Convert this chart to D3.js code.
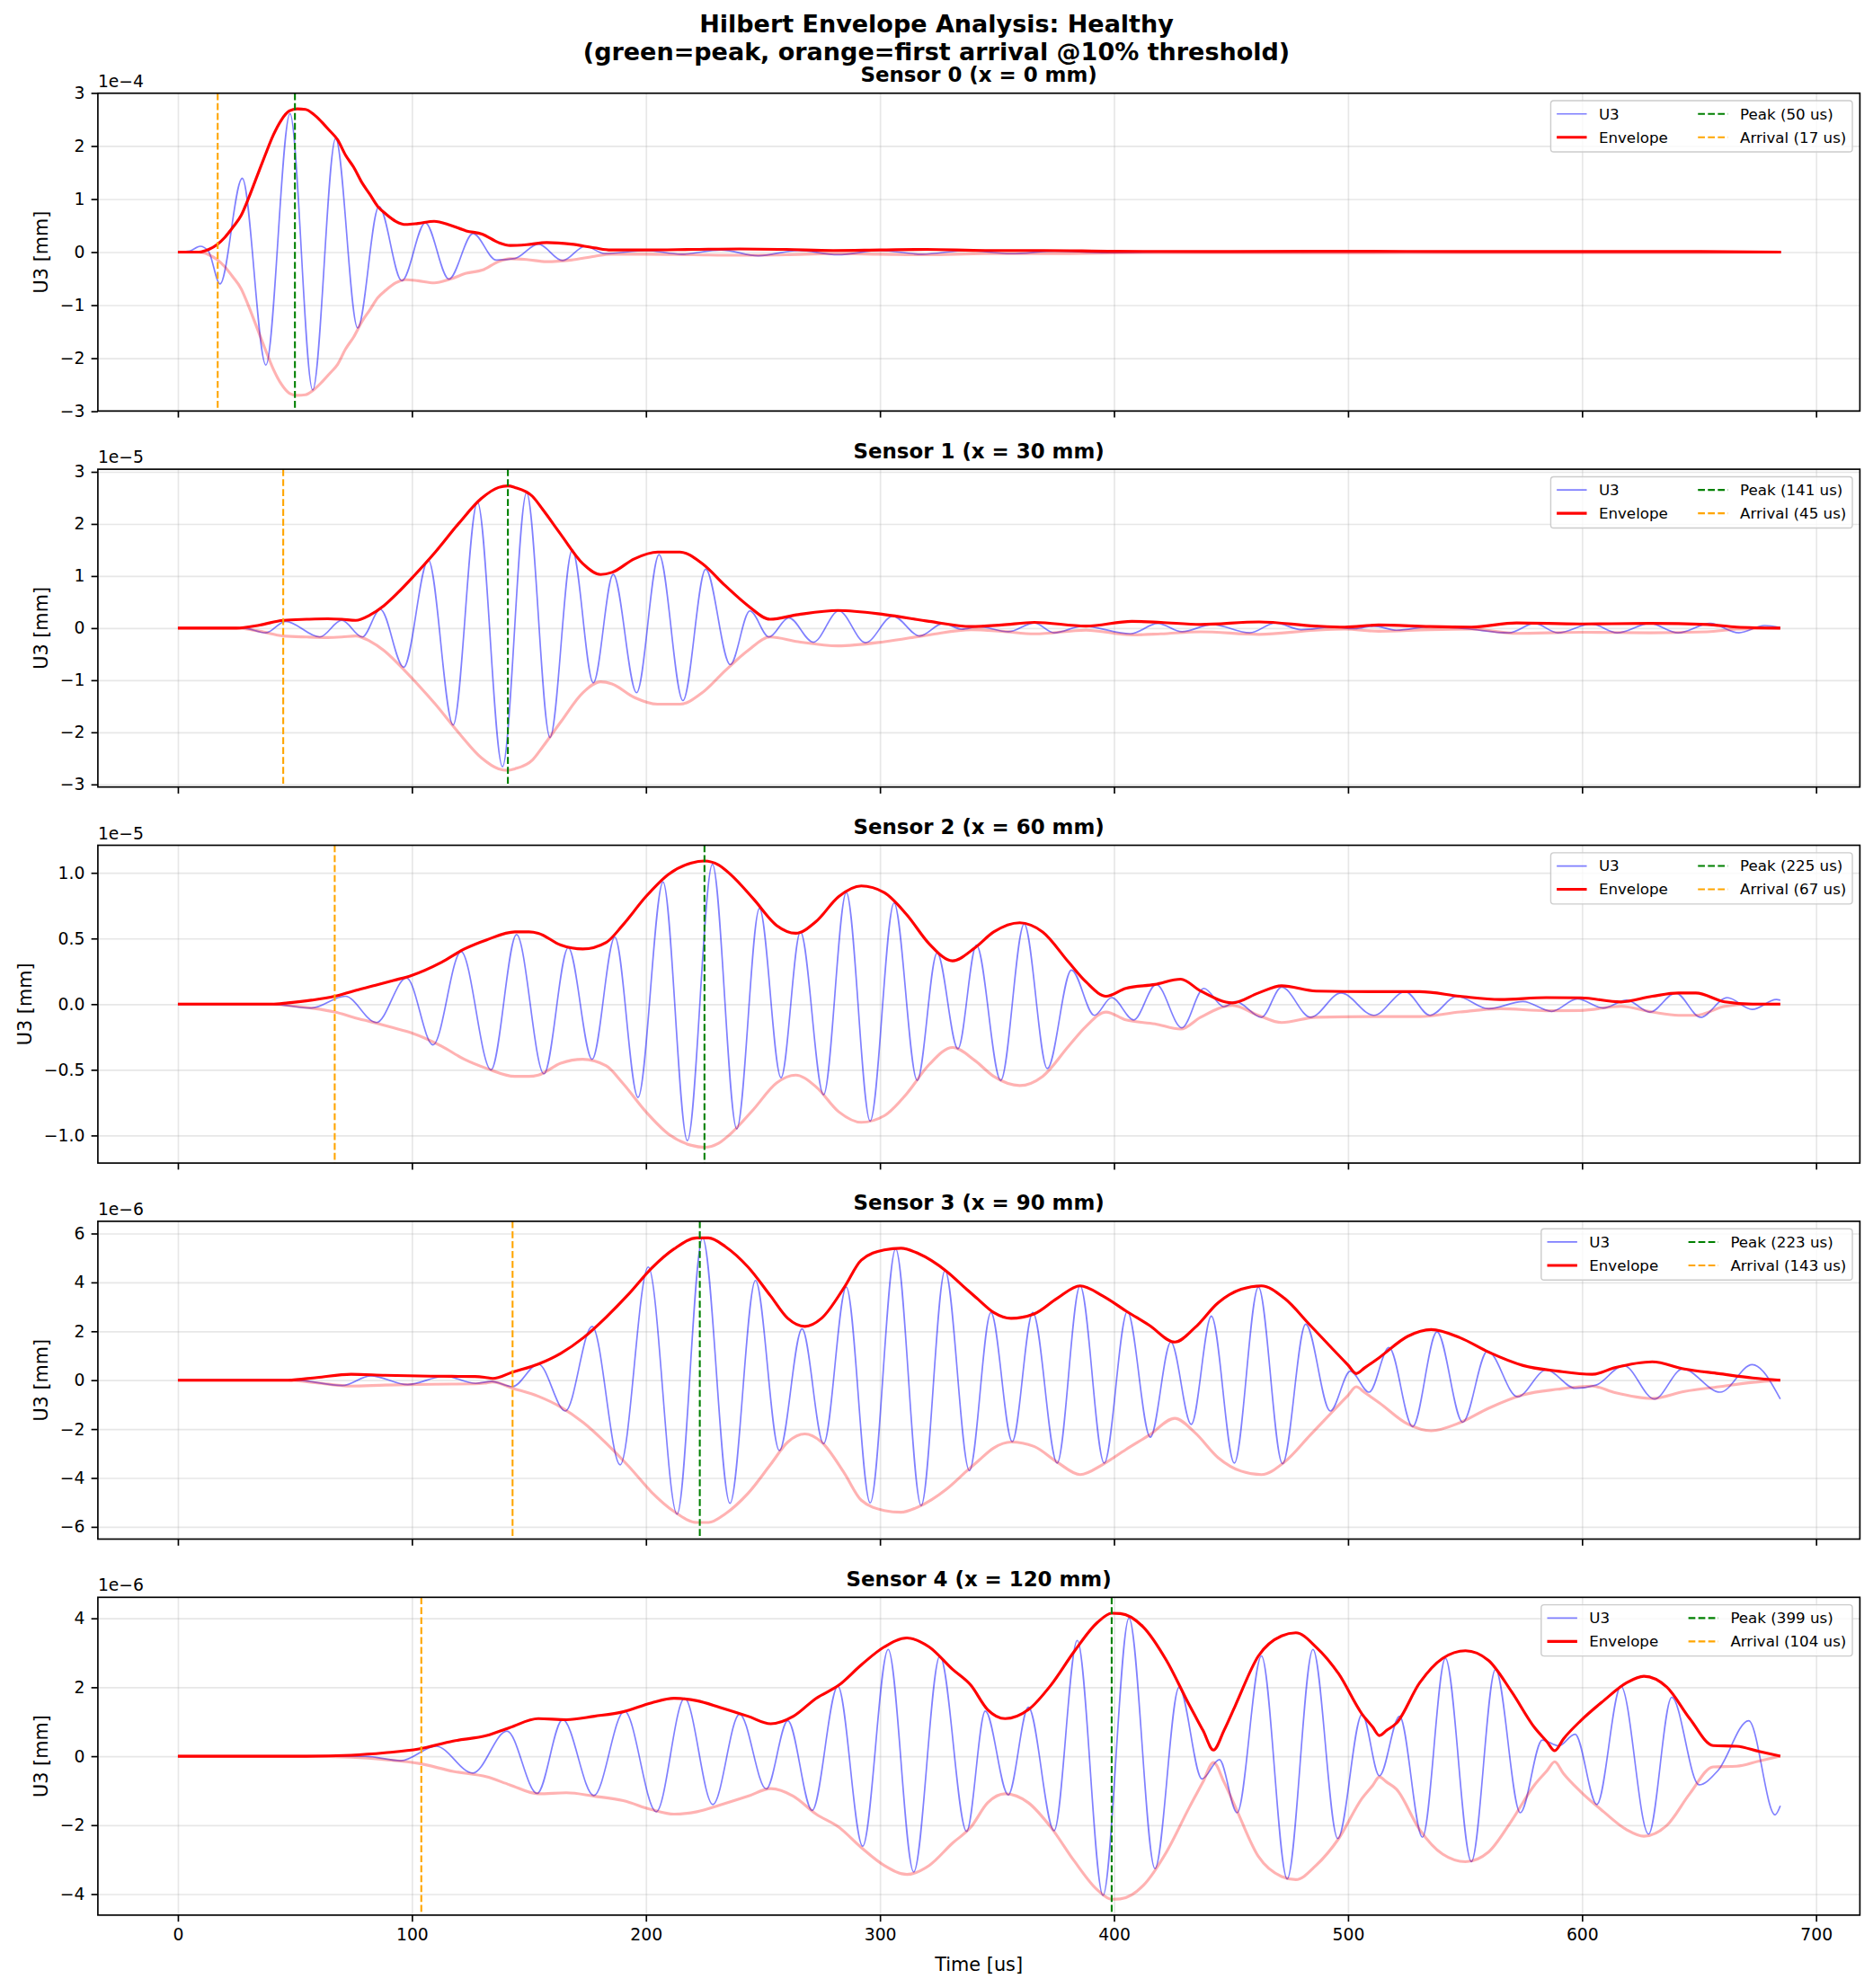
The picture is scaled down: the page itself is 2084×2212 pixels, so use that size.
<!DOCTYPE html>
<html><head><meta charset="utf-8">
<script src="https://cdn.jsdelivr.net/npm/d3@7"></script>
<style>
body{margin:0;background:#fff}
svg{display:block}
text{font-family:"DejaVu Sans",sans-serif;fill:#000}
</style>
</head><body>
<svg id="c" width="2084" height="2212"></svg>
<script>
// ---------------- DATA ----------------
const suptitleLines = ["Hilbert Envelope Analysis: Healthy", "(green=peak, orange=first arrival @10% threshold)"];
const sensorTitles = ["Sensor 0 (x = 0 mm)", "Sensor 1 (x = 30 mm)", "Sensor 2 (x = 60 mm)", "Sensor 3 (x = 90 mm)", "Sensor 4 (x = 120 mm)"];
const peakTimes = [50, 141, 225, 223, 399];
const arrivalTimes = [17, 45, 67, 143, 104];
const yExponents = [-4, -5, -5, -6, -6];           // offset text exponent
const yLimits = [2.995, 3.05, 1.21, 6.5, 4.61];     // in units of 10^exp
const yTicks = [[-3,-2,-1,0,1,2,3],[-3,-2,-1,0,1,2,3],[-1.0,-0.5,0.0,0.5,1.0],[-6,-4,-2,0,2,4,6],[-4,-2,0,2,4]];
const yTickDecimals = [0, 0, 1, 0, 0];
const xTicks = [0,100,200,300,400,500,600,700];
const xDomain = [-34.2, 718.7];

// U3 signal (extrema), [time us, value in 10^exp mm]
const u3_s0 = [[0,0],[5,0.02],[9.5,0.11],[13,0.02],[18,-0.6],[27.5,1.39],[37.6,-2.13],[47.9,2.61],[57.6,-2.6],[67.4,2.14],[76.8,-1.43],[85.9,0.86],[95.7,-0.54],[105.7,0.55],[115.8,-0.51],[126.1,0.35],[136,-0.15],[144,-0.12],[154,0.15],[164.4,-0.16],[174,0.11],[182.5,-0.03],[200,0.03],[215,-0.04],[232,0.04],[248,-0.07],[265,0.03],[282,-0.05],[300,0.03],[318,-0.04],[337,0.03],[356,-0.03],[375,0.02],[395,-0.01],[420,0],[685,0]];
const u3_s1 = [[0,0],[28,0],[37.6,-0.09],[46,0.13],[60.6,-0.17],[70,0.15],[78.8,-0.17],[86.5,0.36],[96.5,-0.75],[107,1.31],[117.6,-1.86],[128,2.42],[138.7,-2.66],[149,2.6],[159,-2.1],[168.5,1.5],[177.5,-1.05],[186,1.03],[196,-1.24],[205.6,1.41],[215.8,-1.39],[225.5,1.13],[236,-0.70],[244.4,0.33],[252.6,-0.17],[261,0.2],[271.5,-0.27],[282.4,0.33],[293.8,-0.28],[305.5,0.23],[317,-0.15],[327,0.09],[335,-0.02],[342,0.03],[354.8,-0.07],[366,0.10],[374.4,-0.09],[386.7,0.04],[407,-0.11],[418.7,0.09],[429,-0.07],[442,0.07],[458,-0.09],[469,0.10],[480,-0.03],[493.7,0.02],[503,-0.01],[511,0.04],[520.7,-0.04],[535.5,0.03],[550,-0.01],[568.7,-0.09],[579.7,0.09],[589.6,-0.09],[604,0.08],[615,-0.09],[629,0.09],[641,-0.09],[654.7,0.09],[667,-0.09],[678,0.05],[684.7,0.01]];
const u3_s2 = [[0,0],[40,0],[57,-0.03],[71.5,0.06],[84.8,-0.14],[97.7,0.2],[109,-0.31],[121,0.40],[133.8,-0.5],[144.7,0.53],[156.4,-0.53],[166.8,0.43],[177,-0.42],[186.7,0.51],[196.6,-0.71],[207.3,0.93],[217.7,-1.04],[228.4,1.065],[238.8,-0.95],[248.5,0.73],[257.7,-0.56],[266,0.55],[275.9,-0.69],[285.6,0.85],[295.8,-0.89],[306,0.77],[315.9,-0.58],[324.4,0.39],[333.3,-0.34],[341.2,0.45],[351.6,-0.58],[361.6,0.61],[371.5,-0.49],[381.8,0.26],[391.6,-0.085],[399,0.05],[408.4,-0.12],[418,0.15],[429,-0.18],[438.4,0.12],[447,-0.02],[452,0.02],[463,-0.10],[471.6,0.13],[484,-0.10],[497,0.085],[511,-0.085],[524.4,0.095],[535,-0.085],[546.5,0.06],[560,-0.035],[574.8,0.02],[587,-0.055],[598,0.04],[609,-0.03],[619,0.03],[629,-0.06],[640,0.085],[650.6,-0.1],[662,0.05],[672.7,-0.04],[683,0.035],[684.7,0.03]];
const u3_s3 = [[0,0],[50,0],[70.3,-0.22],[82.4,0.18],[98.2,-0.18],[114,0.165],[127.3,-0.13],[134,-0.05],[143,-0.26],[154,0.66],[165.6,-1.26],[177,2.2],[189,-3.46],[201,4.63],[213.3,-5.48],[224.2,5.82],[235.9,-5.04],[246.8,4.08],[257,-2.88],[266.7,2.1],[275.9,-2.6],[285.6,3.81],[295.8,-5.02],[306.7,5.37],[317.6,-5.13],[327.8,4.49],[338.2,-3.7],[347.4,2.77],[356.5,-2.51],[365.3,2.77],[375.7,-3.39],[385.5,3.86],[395.8,-3.39],[405.7,2.8],[415.5,-2.33],[424.3,1.56],[433,-1.81],[441.6,2.62],[451.4,-3.39],[461.7,3.81],[472,-3.42],[481.9,2.29],[492.4,-1.26],[501,0.37],[509,-0.49],[517.5,1.34],[527.6,-1.9],[538,1.98],[549,-1.72],[559.6,1.19],[572.4,-0.68],[584.7,0.42],[597,-0.33],[606,-0.2],[617.8,0.6],[630.9,-0.77],[643,0.46],[659,-0.49],[672.7,0.64],[684.7,-0.77]];
const u3_s4 = [[0,0],[80,0],[95.3,-0.13],[110.3,0.29],[126,-0.49],[140.6,0.73],[153.5,-1.08],[164.4,1.06],[177.7,-1.14],[190.8,1.31],[204.4,-1.61],[216.5,1.68],[228.6,-1.4],[240,1.22],[251.4,-0.95],[260.6,1.03],[271,-1.57],[282,2.03],[292.6,-2.61],[303.5,3.1],[314.4,-3.36],[325.6,2.91],[337,-2.18],[345,1.31],[354.8,-1.12],[363.4,1.42],[374.4,-2.16],[384.3,3.36],[395.3,-4.04],[406.4,4.01],[417.5,-3.26],[427.8,2.0],[437.6,-0.66],[445,-0.1],[452.6,-1.64],[463,2.91],[474,-3.56],[485,3.1],[495.6,-2.39],[506,1.22],[513.4,-0.57],[522,1.16],[531.8,-2.35],[541.6,2.84],[552.7,-3.06],[563,2.52],[573.6,-1.64],[583,0.47],[590,0.3],[597,0.64],[606.3,-1.4],[616.6,2.03],[628.4,-2.26],[638.3,1.71],[650,-0.83],[658,-0.42],[671.2,1.03],[682.5,-1.7],[684.7,-1.44]];

// Hilbert envelope (upper), [time us, value in 10^exp mm]
const env_s0 = [[0,0],[9,0],[13.2,0.05],[16.7,0.14],[20.1,0.28],[23.5,0.47],[27,0.69],[30.4,1.04],[33.8,1.43],[37.3,1.83],[40.7,2.2],[44.2,2.49],[47.6,2.66],[51,2.7],[54.5,2.69],[57.9,2.6],[61.3,2.46],[64.8,2.29],[68.2,2.12],[71.6,1.83],[75.1,1.6],[78.5,1.32],[82,1.09],[85.4,0.86],[88.8,0.72],[93.1,0.58],[97.4,0.52],[102.6,0.54],[109.5,0.58],[116.3,0.51],[123.2,0.40],[130,0.34],[137,0.18],[142,0.125],[149,0.14],[157.6,0.18],[168,0.15],[178,0.08],[185,0.04],[200,0.04],[220,0.05],[240,0.06],[260,0.05],[280,0.03],[300,0.04],[320,0.05],[345,0.03],[370,0.03],[400,0.015],[450,0.01],[500,0.015],[550,0.01],[600,0.01],[650,0.01],[685,0]];
const env_s1 = [[0,0],[25,0],[35,0.06],[45,0.15],[55,0.17],[64,0.18],[70,0.17],[76,0.15],[82,0.25],[88,0.43],[94,0.68],[100.6,0.99],[110,1.46],[120,2.01],[129.7,2.49],[137,2.7],[141,2.73],[144,2.7],[151.5,2.53],[156,2.27],[163.6,1.8],[173,1.24],[180.6,1.03],[185.5,1.07],[195,1.33],[205,1.46],[214.5,1.46],[224,1.24],[234,0.81],[243.6,0.43],[253,0.17],[265,0.26],[282,0.34],[302,0.26],[321,0.13],[339,0.03],[352,0.06],[366,0.11],[388,0.04],[407.6,0.13],[420,0.11],[437,0.07],[462,0.12],[486,0.04],[498.6,0.02],[513,0.06],[535,0.03],[552.7,0.02],[572,0.10],[599,0.08],[629,0.09],[653.5,0.07],[666,0.02],[684.7,0]];
const env_s2 = [[0,0],[40,0],[47,0.01],[57,0.03],[67,0.06],[75,0.1],[83.6,0.14],[92,0.18],[100,0.22],[112.7,0.32],[122.4,0.42],[132,0.49],[144,0.55],[150,0.55],[154,0.54],[163.6,0.45],[173,0.42],[183,0.47],[190,0.6],[200,0.82],[209.7,0.99],[219.4,1.075],[225,1.09],[231,1.06],[236,0.99],[246,0.80],[255.8,0.6],[264,0.54],[272.7,0.63],[282.4,0.82],[292,0.90],[301.8,0.85],[311.5,0.68],[321,0.46],[331,0.33],[340.6,0.43],[348.6,0.55],[359.7,0.62],[369.5,0.55],[380.6,0.32],[388,0.17],[396.6,0.06],[405,0.12],[417.5,0.15],[428.5,0.19],[437,0.10],[450.6,0.01],[461.7,0.085],[471.6,0.14],[486.3,0.10],[511,0.095],[530.6,0.095],[547.8,0.06],[565,0.035],[584.7,0.05],[599.4,0.048],[616.6,0.017],[630,0.06],[641.2,0.085],[648.6,0.085],[661,0.017],[673,0.0],[684.7,0]];
const env_s3 = [[0,0],[47,0],[59.4,0.11],[74,0.24],[88.5,0.2],[108,0.165],[127,0.15],[131,0.12],[134.5,0.07],[143,0.33],[154,0.66],[163.6,1.1],[173.3,1.74],[183,2.58],[192.7,3.53],[202.4,4.58],[212,5.37],[221.8,5.82],[226.7,5.82],[234,5.46],[243.6,4.63],[253.3,3.44],[260.6,2.53],[267.9,2.2],[275,2.53],[284.8,3.81],[292,4.91],[301.8,5.33],[309,5.4],[316.4,5.18],[328.5,4.45],[337,3.72],[342,3.3],[348.6,2.77],[356,2.53],[365.8,2.71],[375.7,3.35],[385.5,3.86],[395.3,3.44],[405,2.84],[415,2.25],[426,1.56],[434.7,2.16],[444.5,3.17],[454.3,3.72],[463,3.86],[472.8,3.35],[483.8,2.25],[493.7,1.25],[500,0.62],[503.5,0.27],[507,0.5],[513.4,0.93],[525.6,1.8],[535.5,2.07],[547.8,1.74],[560,1.15],[574.8,0.6],[589.6,0.37],[604.3,0.24],[614,0.51],[630,0.75],[643.7,0.46],[658.4,0.27],[673,0.09],[684.7,0]];
const env_s4 = [[0,0],[55,0],[74,0.03],[88.5,0.1],[103,0.21],[117.6,0.44],[132,0.6],[141.8,0.83],[154,1.09],[166,1.06],[178,1.16],[190.3,1.29],[202.4,1.55],[212,1.68],[221.8,1.61],[231.5,1.42],[243.6,1.16],[253.3,0.94],[263,1.16],[272.7,1.68],[282.4,2.06],[292,2.65],[301.8,3.17],[311.5,3.43],[321,3.17],[331,2.52],[338.8,2.06],[346,1.35],[353.5,1.09],[363.4,1.35],[373,2.06],[383,3.04],[392.9,3.88],[399,4.15],[402.7,4.14],[412.5,3.75],[422.4,2.78],[432.2,1.48],[438,0.75],[442.5,0.18],[447,0.75],[451.9,1.48],[461.7,2.91],[471.6,3.49],[477.7,3.58],[486.3,3.17],[496,2.39],[506,1.22],[510.5,0.85],[513.4,0.6],[516.5,0.75],[520.7,0.96],[530.6,2.13],[540.4,2.84],[550.2,3.06],[560,2.78],[569.9,1.87],[579.7,0.83],[585,0.42],[588.3,0.16],[592,0.5],[599.4,1.03],[609.2,1.61],[619,2.13],[626.4,2.32],[636.3,2.0],[646,1.09],[656,0.31],[666,0.29],[675.6,0.14],[684.7,0]];

const u3Series = [u3_s0, u3_s1, u3_s2, u3_s3, u3_s4];
const envSeries = [env_s0, env_s1, env_s2, env_s3, env_s4];

// ---------------- LAYOUT ----------------
const svg = d3.select("#c");
const AX_L = 108.9, AX_R = 2069.4;
const TOP0 = 103.7, STEP = 418.4, PH = 353.6;
const TICK_FS = 18.75, LABEL_FS = 20.8, LEG_FS = 16.7, TITLE_FS = 22.9, SUP_FS = 27;
const LW = 150/72; // px per pt

const x = d3.scaleLinear().domain(xDomain).range([AX_L, AX_R]);
const minus = s => s.replace(/-/g, "\u2212");

svg.append("rect").attr("width",2084).attr("height",2212).attr("fill","#fff");

// suptitle
svg.append("text").attr("x",1042).attr("y",35.5).attr("text-anchor","middle")
  .attr("font-size",SUP_FS).attr("font-weight","bold").text(suptitleLines[0]);
svg.append("text").attr("x",1042).attr("y",67).attr("text-anchor","middle")
  .attr("font-size",SUP_FS).attr("font-weight","bold").text(suptitleLines[1]);

sensorTitles.forEach((title, i) => {
  const top = TOP0 + i*STEP, bot = top + PH;
  const y = d3.scaleLinear().domain([-yLimits[i], yLimits[i]]).range([bot, top]);
  const g = svg.append("g");

  const clipId = "clip"+i;
  svg.append("clipPath").attr("id",clipId).append("rect")
    .attr("x",AX_L).attr("y",top).attr("width",AX_R-AX_L).attr("height",PH);

  // grid
  g.append("g").attr("transform",`translate(0,${bot})`)
    .call(d3.axisBottom(x).tickValues(xTicks).tickSize(-PH).tickFormat(""))
    .call(s=>{s.select(".domain").remove();
      s.selectAll("line").attr("stroke","#b0b0b0").attr("stroke-opacity",0.3).attr("stroke-width",0.8*LW);});
  g.append("g").attr("transform",`translate(${AX_L},0)`)
    .call(d3.axisLeft(y).tickValues(yTicks[i]).tickSize(-(AX_R-AX_L)).tickFormat(""))
    .call(s=>{s.select(".domain").remove();
      s.selectAll("line").attr("stroke","#b0b0b0").attr("stroke-opacity",0.3).attr("stroke-width",0.8*LW);});

  const plot = g.append("g").attr("clip-path",`url(#${clipId})`);
  const line = d3.line().x(d=>x(d[0])).y(d=>y(d[1])).curve(d3.curveMonotoneX);
  const lineNeg = d3.line().x(d=>x(d[0])).y(d=>y(-d[1])).curve(d3.curveMonotoneX);

  plot.append("path").datum(u3Series[i]).attr("d",line)
    .attr("fill","none").attr("stroke","#0000ff").attr("stroke-opacity",0.5).attr("stroke-width",0.8*LW);
  plot.append("path").datum(envSeries[i]).attr("d",line)
    .attr("fill","none").attr("stroke","#ff0000").attr("stroke-width",1.5*LW).attr("stroke-linejoin","round");
  plot.append("path").datum(envSeries[i]).attr("d",lineNeg)
    .attr("fill","none").attr("stroke","#ff0000").attr("stroke-opacity",0.3).attr("stroke-width",1.5*LW).attr("stroke-linejoin","round");

  const dash = `${3.7*LW},${1.6*LW}`;
  plot.append("line").attr("x1",x(peakTimes[i])).attr("x2",x(peakTimes[i])).attr("y1",top).attr("y2",bot)
    .attr("stroke","#008000").attr("stroke-width",LW).attr("stroke-dasharray",dash);
  plot.append("line").attr("x1",x(arrivalTimes[i])).attr("x2",x(arrivalTimes[i])).attr("y1",top).attr("y2",bot)
    .attr("stroke","#ffa500").attr("stroke-width",LW).attr("stroke-dasharray",dash);

  // axes
  const fmt = yTickDecimals[i] ? d3.format(".1f") : d3.format("d");
  const yAx = g.append("g").attr("transform",`translate(${AX_L},0)`)
    .call(d3.axisLeft(y).tickValues(yTicks[i]).tickSize(3.5*LW).tickPadding(3.5*LW).tickFormat(d=>minus(fmt(d))));
  yAx.select(".domain").remove();
  yAx.selectAll("line").attr("stroke","#000").attr("stroke-width",0.8*LW);
  yAx.selectAll("text").attr("font-size",TICK_FS).attr("font-family","DejaVu Sans").attr("fill","#000");

  const xAx = g.append("g").attr("transform",`translate(0,${bot})`)
    .call(d3.axisBottom(x).tickValues(xTicks).tickSize(3.5*LW).tickPadding(3.5*LW)
      .tickFormat(i===4 ? d3.format("d") : ""));
  xAx.select(".domain").remove();
  xAx.selectAll("line").attr("stroke","#000").attr("stroke-width",0.8*LW);
  xAx.selectAll("text").attr("font-size",TICK_FS).attr("font-family","DejaVu Sans").attr("fill","#000");

  // spines
  g.append("rect").attr("x",AX_L).attr("y",top).attr("width",AX_R-AX_L).attr("height",PH)
    .attr("fill","none").attr("stroke","#000").attr("stroke-width",0.8*LW);

  // offset text
  g.append("text").attr("x",AX_L).attr("y",top-7).attr("font-size",TICK_FS)
    .text("1e" + minus(String(yExponents[i])));

  // title
  g.append("text").attr("x",(AX_L+AX_R)/2).attr("y",top-12.5).attr("text-anchor","middle")
    .attr("font-size",TITLE_FS).attr("font-weight","bold").text(title);

  // ylabel
  let minLeft = Infinity;
  yAx.selectAll("text").each(function(){ const b=this.getBBox(); minLeft=Math.min(minLeft, AX_L + b.x); });
  g.append("text").attr("transform",`translate(${minLeft-8.3-5},${(top+bot)/2}) rotate(-90)`)
    .attr("text-anchor","middle").attr("font-size",LABEL_FS).text("U3 [mm]");

  // legend
  const lg = g.append("g");
  const items = [
    {label:"U3", color:"#0000ff", op:0.5, w:0.8*LW, dash:null},
    {label:"Envelope", color:"#ff0000", op:1, w:1.5*LW, dash:null},
    {label:`Peak (${peakTimes[i]} us)`, color:"#008000", op:1, w:LW, dash:dash},
    {label:`Arrival (${arrivalTimes[i]} us)`, color:"#ffa500", op:1, w:LW, dash:dash}
  ];
  const frame = lg.append("rect");
  const texts = items.map(it => lg.append("text").attr("font-size",LEG_FS).text(it.label));
  const widths = texts.map(t => t.node().getComputedTextLength());
  const bp = 0.4*LEG_FS, hl = 2.0*LEG_FS, htp = 0.8*LEG_FS, cs = 2.0*LEG_FS;
  const w1 = Math.max(widths[0],widths[1]), w2 = Math.max(widths[2],widths[3]);
  const boxW = bp + hl + htp + w1 + cs + hl + htp + w2 + bp;
  const boxH = 57;
  const boxR = AX_R - 0.5*LEG_FS, boxT = top + 0.5*LEG_FS, boxL = boxR - boxW;
  frame.attr("x",boxL).attr("y",boxT).attr("width",boxW).attr("height",boxH).attr("rx",3.3)
    .attr("fill","#fff").attr("fill-opacity",0.8).attr("stroke","#cccccc").attr("stroke-width",1.4);
  const rowY = [boxT+14.7, boxT+40.7];
  const colX = [boxL+bp, boxL+bp+hl+htp+w1+cs];
  items.forEach((it,k) => {
    const col = Math.floor(k/2), row = k%2;
    const hx = colX[col], cy = rowY[row];
    const l = lg.insert("line","text").attr("x1",hx).attr("x2",hx+hl).attr("y1",cy).attr("y2",cy)
      .attr("stroke",it.color).attr("stroke-opacity",it.op).attr("stroke-width",it.w);
    if (it.dash) l.attr("stroke-dasharray",it.dash);
    texts[k].attr("x",hx+hl+htp).attr("y",cy).attr("dy","0.35em");
  });
});

// x label
svg.append("text").attr("x",(AX_L+AX_R)/2).attr("y",2193).attr("text-anchor","middle")
  .attr("font-size",LABEL_FS).text("Time [us]");
</script>
</body></html>
